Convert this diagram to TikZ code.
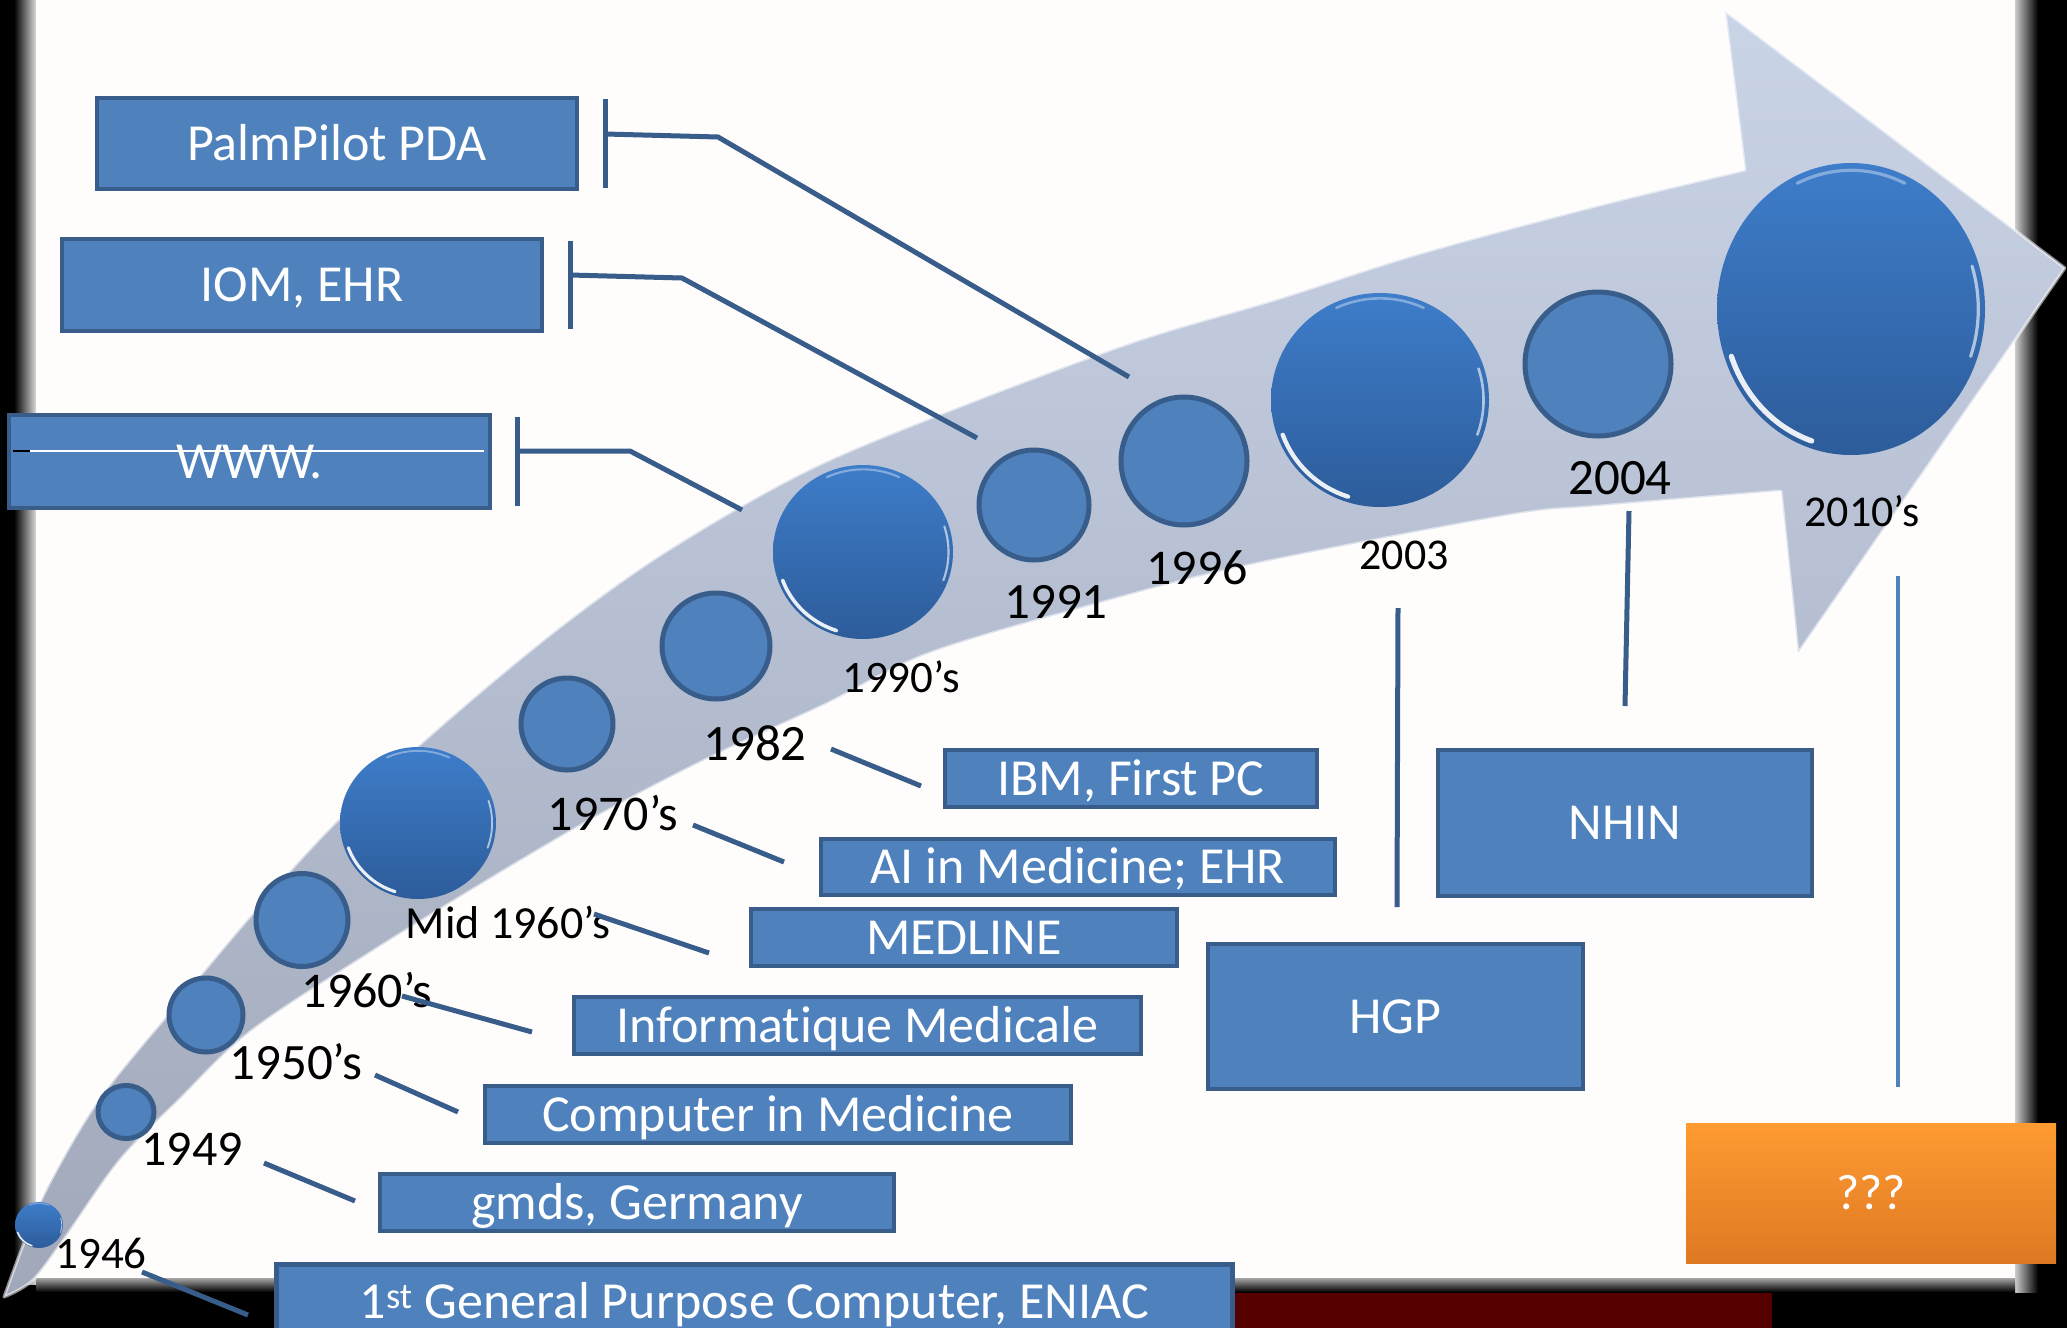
\documentclass[tikz,border=0pt]{standalone}
\usepackage{fontspec}
\setmainfont{Carlito}[Ligatures=CommonOff]
\usetikzlibrary{shapes.geometric}
\definecolor{boxblue}{HTML}{4F81BD}
\definecolor{boxedge}{HTML}{385D8A}
\definecolor{balltop}{HTML}{3E7DCA}
\definecolor{ballbot}{HTML}{2D5C9A}
\definecolor{arrtop}{HTML}{CAD4E7}
\definecolor{arrbot}{HTML}{A0A8B9}
\definecolor{orgtop}{HTML}{FF9B31}
\definecolor{orgbot}{HTML}{DE7923}
\definecolor{darkred}{HTML}{560000}
\newcommand\gball[5]{%
  \node[gloss, minimum width=#4*2pt, minimum height=#5*2pt] (#1) at (#2,-#3) {};
  \pgfmathsetmacro\hrx{#4*0.95}\pgfmathsetmacro\hry{#5*0.95}%
  \pgfmathsetmacro\hlw{max(1.5,#4*0.04)}%
  \draw[white, line width=\hlw pt, opacity=.9, line cap=round] (#2,-#3) ++(200:\hrx pt and \hry pt) arc[start angle=200, end angle=252, x radius=\hrx pt, y radius=\hry pt];
  \draw[white!60!balltop, line width=0.6*\hlw pt, opacity=.6, line cap=round] (#2,-#3) ++(65:\hrx pt and \hry pt) arc[start angle=65, end angle=115, x radius=\hrx pt, y radius=\hry pt];
  \draw[white, line width=0.6*\hlw pt, opacity=.6, line cap=round] (#2,-#3) ++(-20:\hrx pt and \hry pt) arc[start angle=-20, end angle=18, x radius=\hrx pt, y radius=\hry pt];
}
\begin{document}
\begin{tikzpicture}[x=1pt,y=1pt,
  box/.style={draw=boxedge, fill=boxblue, line width=4.5pt, text=white, inner sep=0pt,
    font=\fontsize{52}{60}\selectfont, text height=39pt, text depth=5.5pt},
  qbox/.style={top color=orgtop, bottom color=orgbot, draw=none, text=white, inner sep=0pt,
    font=\fontsize{50}{60}\selectfont, text height=37pt, text depth=5pt},
  pball/.style={ellipse, draw=boxedge, fill=boxblue, line width=5pt, inner sep=0pt},
  gloss/.style={ellipse, top color=balltop, bottom color=ballbot, draw=none, inner sep=0pt},
  yr/.style={inner sep=0pt, text=black},
  lead/.style={draw=boxedge, line width=5pt},
  lightlead/.style={draw=boxblue, line width=4pt}]
\useasboundingbox (0,0) rectangle (2067,-1328);
% ---- background / paper ----
\fill[black] (0,0) rectangle (2067,-1328);
\fill[darkred] (1231,-1290) rectangle (1772,-1328);
\shade[left color=black, right color=white!85!black] (14,0) rectangle (36,-1284);
\shade[left color=white!80!black, right color=black] (2015,0) rectangle (2038,-1292);
\shade[top color=white!65!black, bottom color=black] (36,-1278) rectangle (2015,-1292);
\fill[white!99!red] (36,0) rectangle (2015,-1278);
% ---- big arrow ----
\shadedraw[top color=arrtop, bottom color=arrbot, draw=white, draw opacity=.55, line width=3pt, line join=round]
  (4,-1297) -- plot[smooth, tension=.55] coordinates {(4,-1297) (22,-1248) (48,-1186) (100,-1098) (180,-1000) (260,-905) (340,-818) (450,-718) (560,-627) (665,-552) (800,-474) (933,-417) (1130,-343) (1274,-300) (1418,-254) (1600,-205) (1745,-170)}
  -- (1725,-11) -- (2065,-268) -- (1798,-653) -- (1781,-491)
  -- plot[smooth, tension=.55] coordinates {(1781,-491) (1600,-506) (1505,-516) (1250,-565) (1100,-603) (930,-653) (824,-705) (709,-758) (594,-818) (480,-885) (365,-956) (250,-1032) (179,-1100) (120,-1160) (67,-1235) (33,-1280) (4,-1297)}
  -- cycle;
% ---- circles ----
\node[pball, minimum width=56pt, minimum height=53pt] (c1949) at (126,-1112) {};
\node[pball, minimum width=74pt, minimum height=74pt] (c1950) at (206,-1015) {};
\node[pball, minimum width=92pt, minimum height=93pt] (c1960) at (302,-920) {};
\gball{cmid60}{418}{823}{78}{76}
\node[pball, minimum width=92pt, minimum height=92pt] (c1970) at (567,-724) {};
\node[pball, minimum width=108pt, minimum height=106pt] (c1982) at (716,-646) {};
\gball{c1990}{863}{552}{90}{87}
\node[pball, minimum width=110pt, minimum height=110pt] (c1991) at (1034,-505) {};
\node[pball, minimum width=126pt, minimum height=128pt] (c1996) at (1184,-461) {};
\gball{c2003}{1380}{400}{109}{107}
\node[pball, minimum width=146pt, minimum height=144pt] (c2004) at (1598,-364) {};
\gball{c2010}{1851}{309}{134}{146}
\gball{c1946}{39}{1225}{24}{23}
% ---- year labels ----
\node[yr, font=\fontsize{45}{50}\selectfont] (l1946) at (101,-1253) {1946};
\node[yr, font=\fontsize{50}{55}\selectfont] (l1949) at (192,-1149) {1949};
\node[yr, font=\fontsize{51}{55}\selectfont] (l1950) at (296,-1062) {1950’s};
\node[yr, font=\fontsize{50}{55}\selectfont] (l1960) at (367,-990) {1960’s};
\node[yr, font=\fontsize{46}{50}\selectfont] (lmid60) at (508,-922) {Mid 1960’s};
\node[yr, font=\fontsize{50}{55}\selectfont] (l1970) at (613,-813) {1970’s};
\node[yr, font=\fontsize{51}{55}\selectfont] (l1982) at (755,-743) {1982};
\node[yr, font=\fontsize{45}{50}\selectfont] (l1990) at (901,-677) {1990’s};
\node[yr, font=\fontsize{51}{55}\selectfont] (l1991) at (1056,-602) {1991};
\node[yr, font=\fontsize{50}{55}\selectfont] (l1996) at (1197,-568) {1996};
\node[yr, font=\fontsize{44}{50}\selectfont] (l2003) at (1404,-555) {2003};
\node[yr, font=\fontsize{51}{55}\selectfont] (l2004) at (1620,-478) {2004};
\node[yr, font=\fontsize{44}{50}\selectfont] (l2010) at (1862,-511) {2010’s};
% ---- boxes ----
\node[box, minimum width=480pt, minimum height=91pt] (palm) at (337,-143.5) {PalmPilot PDA};
\node[box, minimum width=480pt, minimum height=92pt] (iom) at (302,-285) {IOM, EHR};
\node[box, minimum width=481pt, minimum height=93pt] (www) at (249.5,-461.5) {WWW.};
\node[box, minimum width=372pt, minimum height=57pt] (ibm) at (1131,-778.5) {IBM, First PC};
\node[box, minimum width=514pt, minimum height=56pt] (ai) at (1078,-867) {AI in Medicine; EHR};
\node[box, minimum width=426pt, minimum height=57pt] (medline) at (964,-937.5) {MEDLINE};
\node[box, minimum width=567pt, minimum height=57pt] (info) at (857.5,-1025.5) {Informatique Medicale};
\node[box, minimum width=586pt, minimum height=57pt] (cim) at (778,-1114.5) {Computer in Medicine};
\node[box, minimum width=514pt, minimum height=57pt] (gmds) at (637,-1202.5) {gmds, Germany};
\node[box, minimum width=956pt, minimum height=74pt, anchor=north west] (eniac) at (274,-1262) {1\textsuperscript{st} General Purpose Computer, ENIAC};
\node[box, minimum width=375pt, minimum height=145pt] (hgp) at (1395.5,-1016.5) {HGP};
\node[box, minimum width=374pt, minimum height=146pt] (nhin) at (1625,-823) {NHIN};
\node[qbox, minimum width=370pt, minimum height=140pt] (qq) at (1871,-1193) {???};
% white hairline across the WWW. box
\draw[white, line width=1.2pt] (13,-451) -- (484,-451);
\draw[black, line width=1.2pt] (13,-451) -- (30,-451);
% ---- leader lines ----
\coordinate (a1946) at (142,-1272); \coordinate (b1946) at (248,-1315);
\coordinate (a1949) at (264,-1163); \coordinate (b1949) at (355,-1201);
\coordinate (a1950) at (375,-1075); \coordinate (b1950) at (458,-1112);
\coordinate (a1960) at (402,-996);  \coordinate (b1960) at (532,-1032);
\coordinate (amid) at (594,-914);   \coordinate (bmid) at (709,-953);
\coordinate (a1970) at (693,-825);  \coordinate (b1970) at (784,-862);
\coordinate (a1982) at (831,-749);  \coordinate (b1982) at (921,-786);
\draw[lead] (a1946) -- (b1946);
\draw[lead] (a1949) -- (b1949);
\draw[lead] (a1950) -- (b1950);
\draw[lead] (a1960) -- (b1960);
\draw[lead] (amid) -- (bmid);
\draw[lead] (a1970) -- (b1970);
\draw[lead] (a1982) -- (b1982);
% brackets + elbow leaders
\coordinate (wt) at (517,-417); \coordinate (wb) at (517,-506);
\coordinate (wm) at (517,-451); \coordinate (wk) at (630,-451); \coordinate (we) at (742,-510);
\draw[lead] (wt) -- (wb);
\draw[lead, line join=round] (wm) -- (wk) -- (we);
\coordinate (it) at (570,-241); \coordinate (ib) at (570,-329);
\coordinate (im) at (570,-275); \coordinate (ik) at (682,-278); \coordinate (ie) at (977,-438);
\draw[lead] (it) -- (ib);
\draw[lead, line join=round] (im) -- (ik) -- (ie);
\coordinate (pt) at (605,-99); \coordinate (pb) at (605,-188);
\coordinate (pm) at (605,-134); \coordinate (pk) at (718,-137); \coordinate (pe) at (1129,-377);
\draw[lead] (pt) -- (pb);
\draw[lead, line join=round] (pm) -- (pk) -- (pe);
% vertical leaders
\coordinate (v3a) at (1398,-608); \coordinate (v3b) at (1397,-907);
\coordinate (v4a) at (1629,-511); \coordinate (v4b) at (1625,-706);
\coordinate (v10a) at (1898,-576); \coordinate (v10b) at (1898,-1087);
\draw[lead] (v3a) -- (v3b);
\draw[lead] (v4a) -- (v4b);
\draw[lightlead] (v10a) -- (v10b);
\end{tikzpicture}
\end{document}
